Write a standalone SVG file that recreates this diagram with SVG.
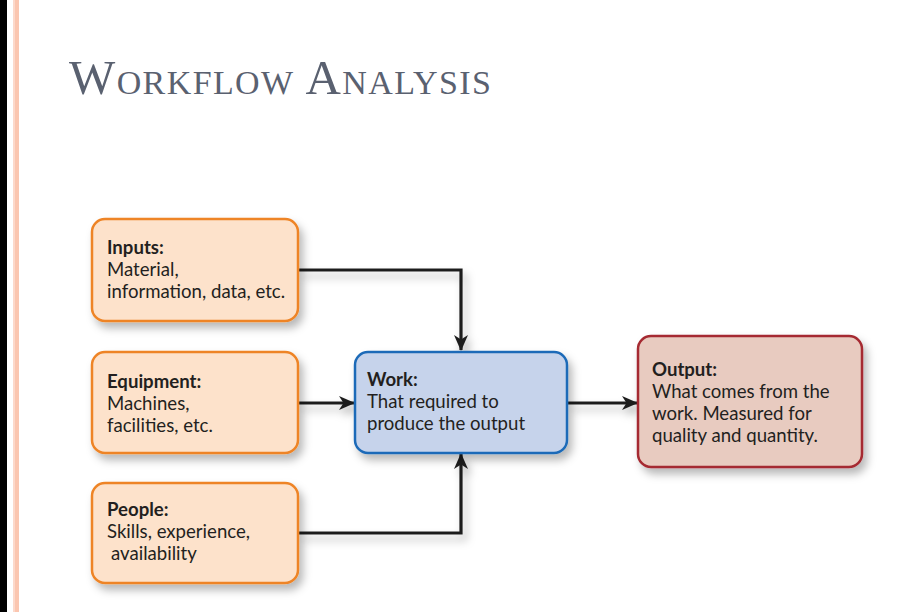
<svg xmlns="http://www.w3.org/2000/svg" width="918" height="612" viewBox="0 0 918 612">
<style>
.t{font-family:"Lato","Open Sans",sans-serif;font-size:18.6px;fill:#231f20}
.b{font-weight:bold}
.title{font-family:"Liberation Serif","Times New Roman",serif;font-size:49px;letter-spacing:1.4px;font-variant:small-caps;fill:#5a6170}
.in{fill:#fde2cb;stroke:#ee8426;stroke-width:2.5}
.wk{fill:#c6d3eb;stroke:#1e6bb8;stroke-width:2.5}
.out{fill:#e8cbc0;stroke:#a52a30;stroke-width:2.5}
.c{fill:none;stroke:#1f1f1f;stroke-width:3.2}
</style>
<defs>
<filter id="sh" x="-10%" y="-10%" width="130%" height="140%">
<feDropShadow dx="4" dy="6" stdDeviation="4" flood-color="#000" flood-opacity="0.28"/>
</filter>
<marker id="ah" viewBox="0 0 16 14" refX="15" refY="7" markerWidth="16" markerHeight="14" markerUnits="userSpaceOnUse" orient="auto">
<path d="M0,0 L16,7 L0,14 L4.5,7 Z" fill="#1f1f1f"/>
</marker>
</defs>
<rect width="918" height="612" fill="#fff"/>
<rect x="0" y="0" width="7" height="612" fill="#000"/>
<rect x="13" y="0" width="2" height="612" fill="#fcd9cb"/>
<rect x="15" y="0" width="4" height="612" fill="#fbc6b0"/>
<text class="title" x="69" y="94">Workflow Analysis</text>
<g id="connectors" filter="url(#sh)">
<path class="c" d="M298,270 H461 V350" marker-end="url(#ah)"/>
<path class="c" d="M298,403 H354" marker-end="url(#ah)"/>
<path class="c" d="M298,533 H461 V454" marker-end="url(#ah)"/>
<path class="c" d="M568,403 H637" marker-end="url(#ah)"/>
</g>
<g id="inputs">
<rect class="in" x="92" y="219" width="206" height="102" rx="13" filter="url(#sh)"/>
<text class="t b" x="107" y="254">Inputs:</text>
<text class="t" x="107" y="276">Material,</text>
<text class="t" x="107" y="298">information, data, etc.</text>
</g>
<g id="equipment">
<rect class="in" x="92" y="352" width="206" height="101" rx="13" filter="url(#sh)"/>
<text class="t b" x="107" y="388">Equipment:</text>
<text class="t" x="107" y="410">Machines,</text>
<text class="t" x="107" y="432">facilities, etc.</text>
</g>
<g id="people">
<rect class="in" x="92" y="483" width="206" height="100" rx="13" filter="url(#sh)"/>
<text class="t b" x="107" y="516">People:</text>
<text class="t" x="107" y="538">Skills, experience,</text>
<text class="t" x="111" y="560">availability</text>
</g>
<g id="work">
<rect class="wk" x="355" y="352" width="212" height="101" rx="13" filter="url(#sh)"/>
<text class="t b" x="367" y="386">Work:</text>
<text class="t" x="367" y="408">That required to</text>
<text class="t" x="367" y="430">produce the output</text>
</g>
<g id="output">
<rect class="out" x="638" y="336" width="224" height="131" rx="13" filter="url(#sh)"/>
<text class="t b" x="652" y="376">Output:</text>
<text class="t" x="652" y="398">What comes from the</text>
<text class="t" x="652" y="420">work. Measured for</text>
<text class="t" x="652" y="442">quality and quantity.</text>
</g>
</svg>
